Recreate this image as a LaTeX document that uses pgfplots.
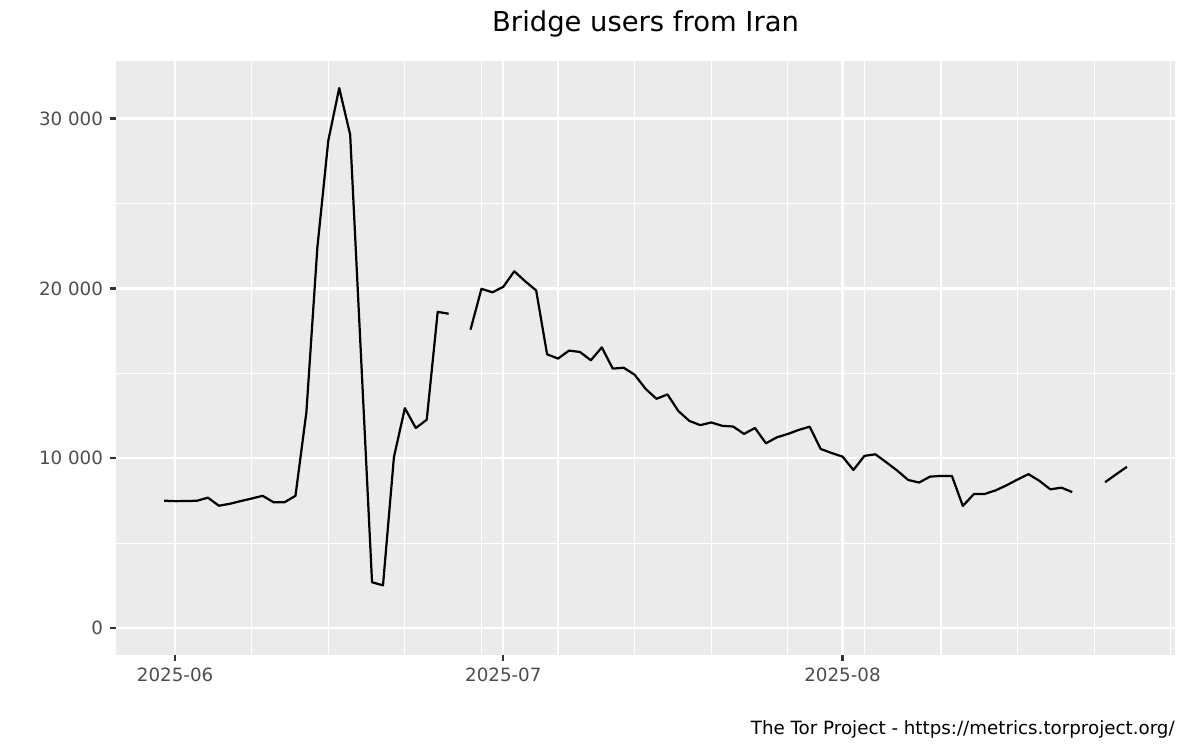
\documentclass[border=0pt]{standalone}
\usepackage{pgfplots}
\pgfplotsset{compat=1.18}
\usepackage{fontspec}
\setmainfont{DejaVu Sans}
\definecolor{panelbg}{HTML}{EBEBEB}
\definecolor{grey30}{HTML}{4D4D4D}
\definecolor{grey20}{HTML}{333333}

% day 0 = 2025-06-01
\pgfplotstableread{
day users
-1 7500
0 7475
1 7480
2 7500
3 7680
4 7206
5 7320
6 7480
7 7630
8 7790
9 7410
10 7410
11 7790
12 12720
13 22400
14 28700
15 31800
16 29050
17 15900
18 2700
19 2520
20 10070
21 12950
22 11780
23 12270
24 18620
25 18510
26 nan
27 17570
28 19980
29 19770
30 20100
31 21010
32 20420
33 19880
34 16120
35 15870
36 16340
37 16260
38 15770
39 16530
40 15280
41 15330
42 14920
43 14090
44 13500
45 13760
46 12780
47 12200
48 11950
49 12110
50 11910
51 11870
52 11435
53 11785
54 10880
55 11235
56 11430
57 11670
58 11860
59 10550
60 10310
61 10100
62 9310
63 10140
64 10235
65 9765
66 9275
67 8725
68 8570
69 8920
70 8960
71 8960
72 7190
73 7890
74 7900
75 8110
76 8410
77 8750
78 9065
79 8670
80 8170
81 8270
82 8010
83 nan
84 nan
85 8590
86 9050
87 9500
}\usersdata

\begin{document}
\begin{tikzpicture}
\useasboundingbox (-55.9pt,-45.8pt) rectangle (522.2pt,315.6pt);
\begin{axis}[
    name=ax,
    at={(0pt,0pt)}, anchor=south west,
    scale only axis,
    width=510.2pt, height=286.2pt,
    xmin=-5.4, xmax=91.4,
    ymin=-1590, ymax=33390,
    axis background/.style={fill=panelbg},
    axis line style={draw=none},
    xtick={0,30,61},
    xticklabels={2025-06,2025-07,2025-08},
    minor xtick={7,14,21,28,35,42,49,56,63,70,77,84,91},
    ytick={0,10000,20000,30000},
    yticklabels={0,10~000,20~000,30~000},
    scaled y ticks=false,
    minor ytick={5000,15000,25000},
    grid=both,
    major grid style={white, line width=1.07pt},
    minor grid style={white, line width=0.53pt},
    tick align=outside,
    xtick pos=left, ytick pos=left,
    major tick length=2.75pt, minor tick length=0pt,
    tick style={grey20, line width=1.07pt},
    ticklabel style={font=\fontsize{8.8}{10}\selectfont, text=grey30},
    unbounded coords=jump,
]
\addplot[black, line width=1.07pt, line join=round, mark=none] table[x=day, y=users] {\usersdata};
\end{axis}
\node[anchor=base, inner sep=0pt, yshift=14.1pt, font=\fontsize{13.2}{15}\selectfont] at (ax.north) {Bridge users from Iran};
\node[anchor=base east, inner sep=0pt, yshift=-38.1pt, font=\fontsize{8.8}{10}\selectfont] at (ax.south east) {The Tor Project - https://metrics.torproject.org/};
\end{tikzpicture}
\end{document}
